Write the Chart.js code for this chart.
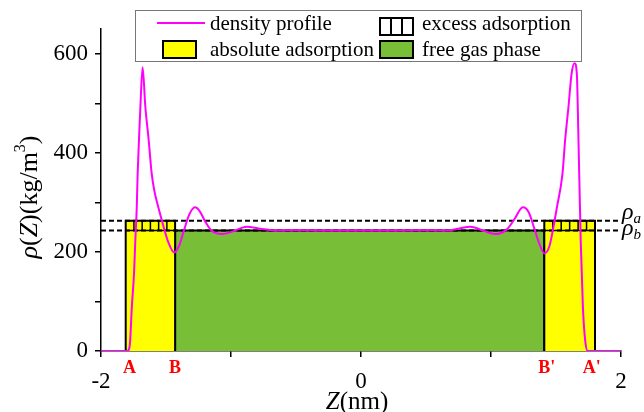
<!DOCTYPE html>
<html>
<head>
<meta charset="utf-8">
<script src="https://cdn.jsdelivr.net/npm/chart.js@4.4.1/dist/chart.umd.min.js"></script>
<style>
  html, body { margin: 0; padding: 0; background: #fff; }
  #wrap { width: 644px; height: 412px; }
</style>
</head>
<body>
<div id="wrap"><canvas id="densityChart" width="644" height="412"></canvas></div>
<script>
// perfil de densidad rho(Z)
const zProfile = [-2.0, -1.80, -1.785, -1.776, -1.763, -1.746, -1.736, -1.725, -1.718, -1.708, -1.697, -1.68,
    -1.659, -1.633, -1.61, -1.59, -1.559, -1.525, -1.487, -1.437, -1.40, -1.36, -1.32, -1.277, -1.24, -1.20,
    -1.15, -1.07, -0.98, -0.88, -0.78, -0.65, -0.5, -0.3, -0.1, 0.1, 0.3, 0.5, 0.65, 0.75, 0.84, 0.94, 1.03,
    1.12, 1.18, 1.245, 1.29, 1.33, 1.37, 1.41, 1.45, 1.48, 1.507, 1.55, 1.57, 1.596, 1.62, 1.642, 1.66, 1.673,
    1.69, 1.707, 1.725, 1.745, 2.0];
const rhoProfile = [0, 0, 3, 20, 88, 156, 223, 290, 358, 425, 493, 573,
    493, 425, 358, 324, 290, 257, 223, 199, 212, 245, 276, 290, 282, 262,
    243, 236, 242, 251, 247, 243, 244, 243, 243, 243, 243, 244, 243, 247, 251, 243, 236,
    245, 266, 290, 280, 250, 218, 197, 212, 250, 290, 358, 425, 493, 560, 581, 561, 425,
    223, 88, 20, 0, 0];

// limites de zonas A, B, B', A' (nm)
const zoneZ = [-1.81, -1.43, 1.41, 1.80];
const zoneLabels = ['A', 'B', "B'", "A'"];
const zoneLabelZ = [-1.78, -1.43, 1.41, 1.755];

// densidades de referencia rho_a y rho_b
const refDensity = [263, 243];
const refLabels = ['a', 'b'];

const xTickLabels = [-2, 0, 2];
const yTickLabels = [0, 200, 400, 600];
const legendLabels = ['density profile', 'absolute adsorption', 'excess adsorption', 'free gas phase'];

const cellsPerBox = 6;

const YELLOW = '#FFFF00';
const GREEN = '#78BE36';
const MAGENTA = '#FF00FF';
const SERIF = "'Liberation Serif', 'Times New Roman', serif";

function rect(z0, z1, h) {
    return [{x: z0, y: 0}, {x: z0, y: h}, {x: z1, y: h}, {x: z1, y: 0}];
}

function dividers(z0, z1) {
    const pts = [{x: z0, y: refDensity[1]}, {x: z1, y: refDensity[1]}, {x: z1, y: null}];
    for (let i = 1; i < cellsPerBox; i++) {
        const z = z0 + (z1 - z0) * i / cellsPerBox;
        pts.push({x: z, y: refDensity[1]}, {x: z, y: refDensity[0]}, {x: z, y: null});
    }
    return pts;
}

const boxStyle = {
    borderColor: '#000',
    borderWidth: 2,
    pointRadius: 0,
    tension: 0,
    fill: 'origin'
};

const datasets = [
    {
        label: legendLabels[0],
        data: zProfile.map((z, i) => ({x: z, y: rhoProfile[i]})),
        borderColor: MAGENTA,
        borderWidth: 2,
        pointRadius: 0,
        cubicInterpolationMode: 'monotone',
        fill: false
    },
    {
        data: [{x: -2, y: refDensity[0]}, {x: 1.98, y: refDensity[0]}],
        borderColor: '#000', borderWidth: 2, borderDash: [5, 3], pointRadius: 0, fill: false
    },
    {
        data: [{x: -2, y: refDensity[1]}, {x: 1.98, y: refDensity[1]}],
        borderColor: '#000', borderWidth: 2, borderDash: [5, 3], pointRadius: 0, fill: false
    },
    {
        data: dividers(zoneZ[0], zoneZ[1]).concat(dividers(zoneZ[2], zoneZ[3])),
        borderColor: '#000', borderWidth: 1.5, pointRadius: 0, fill: false, spanGaps: false
    },
    Object.assign({label: legendLabels[1], data: rect(zoneZ[0], zoneZ[1], refDensity[0]), backgroundColor: YELLOW}, boxStyle),
    Object.assign({data: rect(zoneZ[2], zoneZ[3], refDensity[0]), backgroundColor: YELLOW}, boxStyle),
    Object.assign({label: legendLabels[3], data: rect(zoneZ[1], zoneZ[2], refDensity[1]), backgroundColor: GREEN}, boxStyle)
];

// texto con partes en cursiva / superindice
function richText(ctx, parts, x, y, size) {
    let total = 0;
    parts.forEach(p => {
        ctx.font = (p.it ? 'italic ' : '') + Math.round(size * (p.sup ? 0.6 : 1)) + 'px ' + SERIF;
        p.w = ctx.measureText(p.t).width;
        total += p.w;
    });
    let cx = x - total / 2;
    parts.forEach(p => {
        ctx.font = (p.it ? 'italic ' : '') + Math.round(size * (p.sup ? 0.6 : 1)) + 'px ' + SERIF;
        ctx.fillText(p.t, cx, p.sup ? y - size * 0.45 : y);
        cx += p.w;
    });
}

const overlayPlugin = {
    id: 'overlay',
    afterDraw(chart) {
        const ctx = chart.ctx;
        const xs = chart.scales.x;
        ctx.save();
        ctx.fillStyle = '#000';
        ctx.textBaseline = 'alphabetic';
        ctx.textAlign = 'left';

        // titulo eje X
        richText(ctx, [{t: 'Z', it: true}, {t: '(nm)'}], 357, 409, 25);

        // titulo eje Y
        ctx.save();
        ctx.translate(37, 197);
        ctx.rotate(-Math.PI / 2);
        richText(ctx, [{t: 'ρ', it: true}, {t: '('}, {t: 'Z', it: true}, {t: ')(kg/m'}, {t: '3', sup: true}, {t: ')'}], 0, 0, 26);
        ctx.restore();

        // etiquetas A, B, B', A'
        ctx.fillStyle = '#FF0000';
        ctx.font = 'bold 18px ' + SERIF;
        zoneLabels.forEach((lab, i) => {
            const px = xs.getPixelForValue(zoneLabelZ[i]);
            const w = ctx.measureText(lab.charAt(0)).width;
            ctx.fillText(lab, px - w / 2, 373);
        });

        // rho_a, rho_b
        ctx.fillStyle = '#000';
        const ys = chart.scales.y;
        refLabels.forEach((lab, i) => {
            const py = ys.getPixelForValue(refDensity[i]);
            const base = i === 0 ? py - 2 : py + 4;
            ctx.font = 'italic 24px ' + SERIF;
            ctx.fillText('ρ', 622, base);
            const w = ctx.measureText('ρ').width;
            ctx.font = 'italic 15px ' + SERIF;
            ctx.fillText(lab, 622 + w, base + 4);
        });

        // leyenda
        ctx.fillStyle = '#fff';
        ctx.fillRect(135, 10, 446, 51);
        ctx.strokeStyle = '#777';
        ctx.lineWidth = 1;
        ctx.strokeRect(135.5, 10.5, 446, 51);

        ctx.strokeStyle = MAGENTA;
        ctx.lineWidth = 2;
        ctx.beginPath();
        ctx.moveTo(157, 23);
        ctx.lineTo(205, 23);
        ctx.stroke();

        ctx.strokeStyle = '#000';
        ctx.lineWidth = 2;
        ctx.fillStyle = YELLOW;
        ctx.fillRect(163, 41, 33, 17);
        ctx.strokeRect(163, 41, 33, 17);
        ctx.fillStyle = GREEN;
        ctx.fillRect(380, 41, 33, 17);
        ctx.strokeRect(380, 41, 33, 17);
        ctx.strokeRect(380, 18, 33, 17);
        ctx.beginPath();
        ctx.moveTo(391, 18); ctx.lineTo(391, 35);
        ctx.moveTo(402, 18); ctx.lineTo(402, 35);
        ctx.stroke();

        ctx.fillStyle = '#000';
        ctx.font = '21px ' + SERIF;
        ctx.fillText(legendLabels[0], 210, 30);
        ctx.fillText(legendLabels[1], 210, 56);
        ctx.fillText(legendLabels[2], 422, 30);
        ctx.fillText(legendLabels[3], 422, 56);
        ctx.restore();
    }
};

const tickFont = {family: SERIF, size: 23};

new Chart(document.getElementById('densityChart').getContext('2d'), {
    type: 'line',
    data: {datasets: datasets},
    options: {
        responsive: false,
        animation: false,
        layout: {padding: {top: 29, right: 23, left: 0, bottom: 0}},
        plugins: {legend: {display: false}, tooltip: {enabled: false}},
        scales: {
            x: {
                type: 'linear',
                min: -2,
                max: 2,
                afterFit: s => { s.height = 61; },
                border: {display: true, color: '#000', width: 1.5},
                grid: {display: true, drawOnChartArea: false, drawTicks: true, tickLength: 6, color: '#000', lineWidth: 1.5},
                ticks: {
                    stepSize: 1,
                    autoSkip: false,
                    maxRotation: 0,
                    padding: 11,
                    color: '#000',
                    font: tickFont,
                    callback: v => xTickLabels.includes(v) ? String(v) : ''
                }
            },
            y: {
                type: 'linear',
                min: 0,
                max: 650,
                afterFit: s => { s.width = 101; },
                border: {display: true, color: '#000', width: 1.5},
                grid: {display: true, drawOnChartArea: false, drawTicks: true, tickLength: 6, color: '#000', lineWidth: 1.5},
                ticks: {
                    stepSize: 100,
                    includeBounds: false,
                    autoSkip: false,
                    padding: 7,
                    color: '#000',
                    font: tickFont,
                    callback: v => yTickLabels.includes(v) ? String(v) : ''
                }
            }
        }
    },
    plugins: [overlayPlugin]
});
</script>
</body>
</html>
